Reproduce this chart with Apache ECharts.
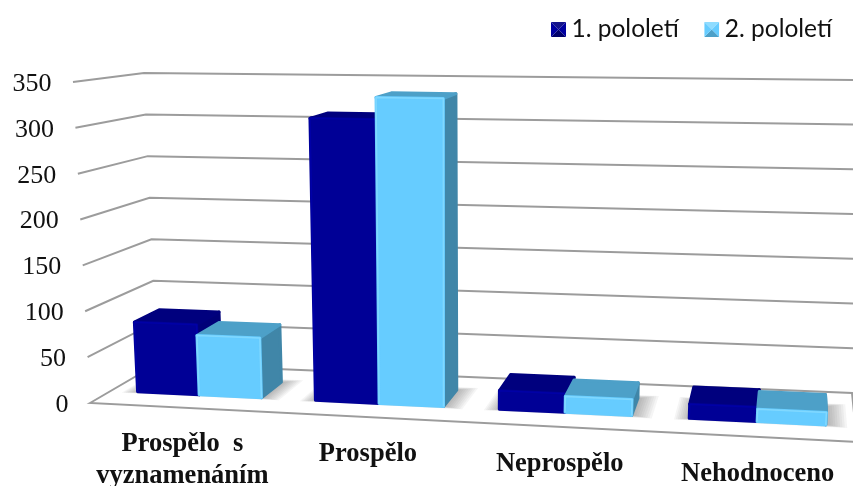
<!DOCTYPE html>
<html><head><meta charset="utf-8">
<style>html,body{margin:0;padding:0;background:#fff}#c{width:853px;height:486px}</style>
<script src="https://cdn.jsdelivr.net/npm/echarts@6/dist/echarts.min.js"></script>
</head><body><div id="c"></div>
<script>
const categories = ['Prospělo  s\nvyznamenáním', 'Prospělo', 'Neprospělo', 'Nehodnoceno'];
const term1 = [78, 310, 20, 15];
const term2 = [66, 334, 17, 13];
const ticks = [0, 50, 100, 150, 200, 250, 300, 350];
const seriesNames = ['1. pololetí', '2. pololetí'];

// corners of the 3D box as seen in the picture: [front/back][bottom/top][left/right]
const C = {
  f0l:[90,403], f1l:[73,82], b0l:[157,364], b1l:[144,73],
  f0r:[857,442], f1r:[879,94], b0r:[852,393], b1r:[865,80]
};
const lerp=(a,b,t)=>a+(b-a)*t;
const PERSP=0.065;
function P(u0,d,w){
  const u=u0+PERSP*u0*(u0-1);
  const r=[];
  for(let i=0;i<2;i++){
    const f0=lerp(C.f0l[i],C.f0r[i],u), f1=lerp(C.f1l[i],C.f1r[i],u);
    const b0=lerp(C.b0l[i],C.b0r[i],u), b1=lerp(C.b1l[i],C.b1r[i],u);
    r.push(lerp(lerp(f0,b0,d),lerp(f1,b1,d),w));
  }
  return r;
}
const norm=(params,pt)=>{const s=params.coordSys;return [(pt[0]-s.x)/s.width,(s.y+s.height-pt[1])/s.height];};
const D0=0.32, D1=0.70, BAR=0.35;
const GRID='#9c9c9c';

function renderWall(params,api){
  const val=api.value(0);
  const w=norm(params,api.coord([0,val]))[1];
  const kids=[];
  if(val===0){
    kids.push({type:'polygon',shape:{points:[P(0,0,0),P(0,1,0),P(1,1,0),P(1,0,0)]},
      style:{fill:'#fff',stroke:GRID,lineWidth:2}});
  }else{
    kids.push({type:'polyline',shape:{points:[P(0,0,w),P(0,1,w),P(1,1,w)]},
      style:{fill:'none',stroke:GRID,lineWidth:2}});
  }
  const p=P(0,0,w);
  kids.push({type:'text',style:{text:String(val),x:p[0]-21.5,y:p[1]+2,align:'right',verticalAlign:'middle',
    font:'26px "Liberation Serif"',fill:'#111'}});
  return {type:'group',children:kids};
}
function renderShadow(params,api){
  const i=api.value(0);
  const u=norm(params,api.coord([i,0]))[0], b=api.size([1,0])[0]/params.coordSys.width*BAR;
  const kids=[];
  for(let k=8;k>=0;k--){
    const eL=k*0.0024, eR=k*0.003+0.003, eF=k*0.005, eB=k*0.008;
    kids.push({type:'polygon',shape:{points:[P(u-b-eL,D0-eF,0),P(u-b-eL,D1+eB,0),P(u+b+eR,D1+eB,0),P(u+b+eR,D0-eF,0)]},
      style:{fill:'rgba(70,70,70,0.055)'}});
  }
  return {type:'group',children:kids};
}
function makeBar(side,col){
  return function(params,api){
    const i=api.value(0), v=api.value(1);
    const n=norm(params,api.coord([i,v]));
    const b=api.size([1,0])[0]/params.coordSys.width*BAR;
    const u0=side===0?n[0]-b:n[0], u1=side===0?n[0]:n[0]+b, w=n[1];
    const st=(c)=>({fill:c,stroke:c,lineWidth:3,lineJoin:'round'});
    return {type:'group',children:[
      {type:'polygon',shape:{points:[P(u1,D0,0),P(u1,D1,0),P(u1,D1,w),P(u1,D0,w)]},style:st(col.side)},
      {type:'polygon',shape:{points:[P(u0,D0,w),P(u0,D1,w),P(u1,D1,w),P(u1,D0,w)]},style:st(col.top)},
      {type:'polygon',shape:{points:[P(u0,D0,0),P(u0,D0,w),P(u1,D0,w),P(u1,D0,0)]},style:st(col.front)},
      {type:'polyline',shape:{points:[P(u0,D0,0),P(u0,D0,w),P(u1,D0,w),P(u1,D0,0)]},
        style:{fill:'none',stroke:col.edge,lineWidth:1.5,lineJoin:'round'}}
    ]};
  };
}
function renderCat(params,api){
  const i=api.value(0);
  const u=norm(params,api.coord([i,0]))[0];
  const p=P(u,0,0);
  return {type:'text',style:{text:categories[i],x:p[0]+2,y:p[1]+21,align:'center',verticalAlign:'top',
    font:'bold 26.5px "Liberation Serif"',lineHeight:32,fill:'#111'}};
}
const iconSvg=(a,b,c,d)=>'image://data:image/svg+xml;utf8,'+encodeURIComponent(
 `<svg xmlns="http://www.w3.org/2000/svg" width="16" height="16"><polygon points="0,0 16,0 8,8" fill="${a}"/><polygon points="0,16 16,16 8,8" fill="${b}"/><polygon points="0,0 0,16 8,8" fill="${c}"/><polygon points="16,0 16,16 8,8" fill="${d}"/></svg>`);

const cats=categories.map((_,i)=>i);
const chart=echarts.init(document.getElementById('c'));
chart.setOption({
  animation:false,
  backgroundColor:'#fff',
  legend:{right:16,top:12,itemWidth:16,itemHeight:15,itemGap:25,
    textStyle:{fontFamily:'Lato',fontSize:24.5,color:'#111'},
    data:[{name:seriesNames[0],icon:iconSvg('#14148c','#00006a','#0000a0','#0000a0')},
          {name:seriesNames[1],icon:iconSvg('#8fdcff','#4da0c8','#66ccff','#66ccff')}]},
  grid:{left:0,top:0,width:853,height:486,containLabel:false},
  xAxis:{type:'category',data:categories,show:false},
  yAxis:{type:'value',min:0,max:350,interval:50,show:false},
  series:[
    {type:'custom',name:'wall',coordinateSystem:'cartesian2d',clip:false,silent:true,data:ticks.map(t=>[t]),encode:{y:0},renderItem:renderWall,z:1},
    {type:'custom',name:'shadow',clip:false,silent:true,data:cats.map(i=>[i]),encode:{x:0},renderItem:renderShadow,z:2},
    {type:'custom',name:seriesNames[0],clip:false,itemStyle:{color:'#000096'},data:term1.map((v,i)=>[i,v]),encode:{x:0,y:1},
      renderItem:makeBar(0,{front:'#000096',top:'#00007e',side:'#000078',edge:'#0000a6'}),z:3},
    {type:'custom',name:seriesNames[1],clip:false,itemStyle:{color:'#66ccff'},data:term2.map((v,i)=>[i,v]),encode:{x:0,y:1},
      renderItem:makeBar(1,{front:'#66ccff',top:'#4da0c8',side:'#4086a8',edge:'#80d8ff'}),z:4},
    {type:'custom',name:'labels',clip:false,silent:true,data:cats.map(i=>[i]),encode:{x:0},renderItem:renderCat,z:5}
  ]
});
</script></body></html>
